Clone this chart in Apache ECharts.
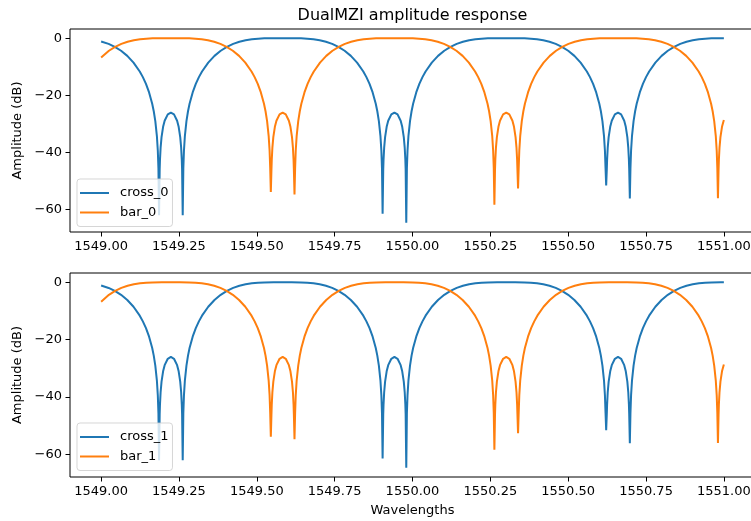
<!DOCTYPE html>
<html><head><meta charset="utf-8">
<script src="https://cdn.jsdelivr.net/npm/echarts@6/dist/echarts.min.js"></script>
<style>html,body{margin:0;padding:0;background:#fff}#c{width:751px;height:521px}</style>
</head><body><div id="c"></div>
<script>
// Both panels show the same curves: [wavelength, dB]
const crossPoints = [
[1549.000,-1.12],[1549.024,-1.97],[1549.044,-3.01],[1549.064,-4.38],[1549.084,-6.18],[1549.104,-8.53],
[1549.124,-11.64],[1549.134,-13.62],[1549.144,-15.99],[1549.154,-18.96],[1549.164,-22.92],[1549.169,-25.56],
[1549.174,-29.02],[1549.179,-34.15],[1549.182,-39.30],[1549.184,-45.54],[1549.186,-62.0],[1549.188,-45.94],
[1549.189,-42.52],[1549.191,-38.32],[1549.194,-34.59],[1549.199,-31.01],[1549.204,-28.88],[1549.214,-26.65],
[1549.224,-26.02],[1549.234,-26.65],[1549.244,-28.88],[1549.249,-31.01],[1549.254,-34.59],[1549.257,-38.32],
[1549.259,-42.52],[1549.260,-45.94],[1549.262,-62.0],[1549.264,-45.54],[1549.266,-39.30],[1549.269,-34.15],
[1549.274,-29.02],[1549.279,-25.56],[1549.284,-22.92],[1549.294,-18.96],[1549.304,-15.99],[1549.314,-13.62],
[1549.324,-11.64],[1549.344,-8.53],[1549.364,-6.18],[1549.384,-4.38],[1549.404,-3.01],[1549.424,-1.97],
[1549.444,-1.22],[1549.464,-0.69],[1549.484,-0.35],[1549.504,-0.15],[1549.524,-0.05],[1549.554,0],
[1549.612,0],[1549.642,-0.05],[1549.662,-0.15],[1549.682,-0.35],[1549.702,-0.69],[1549.722,-1.22],
[1549.742,-1.97],[1549.762,-3.01],[1549.782,-4.38],[1549.802,-6.18],[1549.822,-8.53],[1549.842,-11.64],
[1549.852,-13.62],[1549.862,-15.99],[1549.872,-18.96],[1549.882,-22.92],[1549.887,-25.56],[1549.892,-29.02],
[1549.897,-34.15],[1549.900,-39.30],[1549.902,-45.54],[1549.904,-61.4],[1549.906,-45.94],[1549.907,-42.52],
[1549.909,-38.32],[1549.912,-34.59],[1549.917,-31.01],[1549.922,-28.88],[1549.932,-26.65],[1549.942,-26.02],
[1549.952,-26.65],[1549.962,-28.88],[1549.967,-31.01],[1549.972,-34.59],[1549.975,-38.32],[1549.977,-42.52],
[1549.978,-45.94],[1549.980,-64.6],[1549.982,-45.54],[1549.984,-39.30],[1549.987,-34.15],[1549.992,-29.02],
[1549.997,-25.56],[1550.002,-22.92],[1550.012,-18.96],[1550.022,-15.99],[1550.032,-13.62],[1550.042,-11.64],
[1550.062,-8.53],[1550.082,-6.18],[1550.102,-4.38],[1550.122,-3.01],[1550.142,-1.97],[1550.162,-1.22],
[1550.182,-0.69],[1550.202,-0.35],[1550.222,-0.15],[1550.242,-0.05],[1550.272,0],[1550.330,0],
[1550.360,-0.05],[1550.380,-0.15],[1550.400,-0.35],[1550.420,-0.69],[1550.440,-1.22],[1550.460,-1.97],
[1550.480,-3.01],[1550.500,-4.38],[1550.520,-6.18],[1550.540,-8.53],[1550.560,-11.64],[1550.570,-13.62],
[1550.580,-15.99],[1550.590,-18.96],[1550.600,-22.92],[1550.605,-25.56],[1550.610,-29.02],[1550.615,-34.15],
[1550.618,-39.30],[1550.620,-45.54],[1550.622,-51.5],[1550.624,-45.94],[1550.625,-42.52],[1550.627,-38.32],
[1550.630,-34.59],[1550.635,-31.01],[1550.640,-28.88],[1550.650,-26.65],[1550.660,-26.02],[1550.670,-26.65],
[1550.680,-28.88],[1550.685,-31.01],[1550.690,-34.59],[1550.693,-38.32],[1550.695,-42.52],[1550.696,-45.94],
[1550.698,-56.1],[1550.700,-45.54],[1550.702,-39.30],[1550.705,-34.15],[1550.710,-29.02],[1550.715,-25.56],
[1550.720,-22.92],[1550.730,-18.96],[1550.740,-15.99],[1550.750,-13.62],[1550.760,-11.64],[1550.780,-8.53],
[1550.800,-6.18],[1550.820,-4.38],[1550.840,-3.01],[1550.860,-1.97],[1550.880,-1.22],[1550.900,-0.69],
[1550.920,-0.35],[1550.940,-0.15],[1550.960,-0.05],[1550.990,0],[1551.000,0]
];
const barPoints = [
[1549.000,-6.77],[1549.005,-6.18],[1549.025,-4.38],[1549.045,-3.01],[1549.065,-1.97],[1549.085,-1.22],
[1549.105,-0.69],[1549.125,-0.35],[1549.145,-0.15],[1549.165,-0.05],[1549.195,0],[1549.253,0],
[1549.283,-0.05],[1549.303,-0.15],[1549.323,-0.35],[1549.343,-0.69],[1549.363,-1.22],[1549.383,-1.97],
[1549.403,-3.01],[1549.423,-4.38],[1549.443,-6.18],[1549.463,-8.53],[1549.483,-11.64],[1549.493,-13.62],
[1549.503,-15.99],[1549.513,-18.96],[1549.523,-22.92],[1549.528,-25.56],[1549.533,-29.02],[1549.538,-34.15],
[1549.541,-39.30],[1549.543,-45.54],[1549.545,-53.8],[1549.547,-45.94],[1549.548,-42.52],[1549.550,-38.32],
[1549.553,-34.59],[1549.558,-31.01],[1549.563,-28.88],[1549.573,-26.65],[1549.583,-26.02],[1549.593,-26.65],
[1549.603,-28.88],[1549.608,-31.01],[1549.613,-34.59],[1549.616,-38.32],[1549.618,-42.52],[1549.619,-45.94],
[1549.621,-54.7],[1549.623,-45.54],[1549.625,-39.30],[1549.628,-34.15],[1549.633,-29.02],[1549.638,-25.56],
[1549.643,-22.92],[1549.653,-18.96],[1549.663,-15.99],[1549.673,-13.62],[1549.683,-11.64],[1549.703,-8.53],
[1549.723,-6.18],[1549.743,-4.38],[1549.763,-3.01],[1549.783,-1.97],[1549.803,-1.22],[1549.823,-0.69],
[1549.843,-0.35],[1549.863,-0.15],[1549.883,-0.05],[1549.913,0],[1549.971,0],[1550.001,-0.05],
[1550.021,-0.15],[1550.041,-0.35],[1550.061,-0.69],[1550.081,-1.22],[1550.101,-1.97],[1550.121,-3.01],
[1550.141,-4.38],[1550.161,-6.18],[1550.181,-8.53],[1550.201,-11.64],[1550.211,-13.62],[1550.221,-15.99],
[1550.231,-18.96],[1550.241,-22.92],[1550.246,-25.56],[1550.251,-29.02],[1550.256,-34.15],[1550.259,-39.30],
[1550.261,-45.54],[1550.263,-58.3],[1550.265,-45.94],[1550.266,-42.52],[1550.268,-38.32],[1550.271,-34.59],
[1550.276,-31.01],[1550.281,-28.88],[1550.291,-26.65],[1550.301,-26.02],[1550.311,-26.65],[1550.321,-28.88],
[1550.326,-31.01],[1550.331,-34.59],[1550.334,-38.32],[1550.336,-42.52],[1550.337,-45.94],[1550.339,-52.6],
[1550.341,-45.54],[1550.343,-39.30],[1550.346,-34.15],[1550.351,-29.02],[1550.356,-25.56],[1550.361,-22.92],
[1550.371,-18.96],[1550.381,-15.99],[1550.391,-13.62],[1550.401,-11.64],[1550.421,-8.53],[1550.441,-6.18],
[1550.461,-4.38],[1550.481,-3.01],[1550.501,-1.97],[1550.521,-1.22],[1550.541,-0.69],[1550.561,-0.35],
[1550.581,-0.15],[1550.601,-0.05],[1550.631,0],[1550.689,0],[1550.719,-0.05],[1550.739,-0.15],
[1550.759,-0.35],[1550.779,-0.69],[1550.799,-1.22],[1550.819,-1.97],[1550.839,-3.01],[1550.859,-4.38],
[1550.879,-6.18],[1550.899,-8.53],[1550.919,-11.64],[1550.929,-13.62],[1550.939,-15.99],[1550.949,-18.96],
[1550.959,-22.92],[1550.964,-25.56],[1550.969,-29.02],[1550.974,-34.15],[1550.977,-39.30],[1550.979,-45.54],
[1550.981,-56.0],[1550.983,-45.94],[1550.984,-42.52],[1550.986,-38.32],[1550.989,-34.59],[1550.994,-31.01],
[1551.000,-28.66]
];
const xTicks = [1549.00,1549.25,1549.50,1549.75,1550.00,1550.25,1550.50,1550.75,1551.00];
const yTicks = [-60,-40,-20,0];
const panelNames = [['cross_0','bar_0'],['cross_1','bar_1']];
const titleText = 'DualMZI amplitude response';
const xLabel = 'Wavelengths';
const yLabel = 'Amplitude (dB)';

const FONT = 'DejaVu Sans';
const BLUE = '#1f77b4', ORANGE = '#ff7f0e';
const chart = echarts.init(document.getElementById('c'), null, {renderer:'canvas'});

const grids = [
  {left:70, right:-4, top:29, height:203, outerBoundsMode:'none', containLabel:false, show:true, borderColor:'#000', borderWidth:1, backgroundColor:'transparent'},
  {left:70, right:-4, top:273, height:204, outerBoundsMode:'none', containLabel:false, show:true, borderColor:'#000', borderWidth:1, backgroundColor:'transparent'}
];
function xAxisFor(i){
  return {
    type:'value', gridIndex:i, min:1548.9, max:1551.1,
    axisLine:{show:false, onZero:false}, splitLine:{show:false},
    axisTick:{show:true, length:4.5, lineStyle:{color:'#000', width:1}, customValues:xTicks},
    axisLabel:{show:true, customValues:xTicks, margin:8, color:'#000', fontFamily:FONT, fontSize:13,
      formatter:v=>Number(v).toFixed(2)},
    name: i===1 ? xLabel : '', nameLocation:'middle', nameGap:27,
    nameTextStyle:{color:'#000', fontFamily:FONT, fontSize:13}
  };
}
function yAxisFor(i){
  return {
    type:'value', gridIndex:i, min:-67.83, max:3.23,
    axisLine:{show:false, onZero:false}, splitLine:{show:false},
    axisTick:{show:true, length:4.5, lineStyle:{color:'#000', width:1}, customValues:yTicks},
    axisLabel:{show:true, customValues:yTicks, margin:8, color:'#000', fontFamily:FONT, fontSize:13,
      formatter:v=>String(v).replace('-','\u2212')},
    name:yLabel, nameLocation:'middle', nameGap:45,
    nameTextStyle:{color:'#000', fontFamily:FONT, fontSize:13}
  };
}
function lineSeries(name, pts, color, i){
  return {type:'line', name, xAxisIndex:i, yAxisIndex:i, data:pts, showSymbol:false, symbol:'none',
    lineStyle:{color, width:2}, itemStyle:{color}, sampling:null, smooth:false, z:2, clip:true};
}
function legendFor(i, top){
  return {
    orient:'vertical', left:77, top, data:panelNames[i], icon:'rect', itemWidth:29, itemHeight:2,
    itemGap:3.5, padding:[6,4,6,3], backgroundColor:'rgba(255,255,255,0.8)',
    borderColor:'rgba(204,204,204,0.8)', borderWidth:1, borderRadius:3, selectedMode:false,
    textStyle:{color:'#000', fontFamily:FONT, fontSize:13, lineHeight:16, padding:[0,0,0,6]}
  };
}
chart.setOption({
  animation:false,
  backgroundColor:'#fff',
  grid:grids,
  xAxis:[xAxisFor(0), xAxisFor(1)],
  yAxis:[yAxisFor(0), yAxisFor(1)],
  legend:[legendFor(0,179), legendFor(1,423)],
  series:[
    lineSeries(panelNames[0][0], crossPoints, BLUE, 0),
    lineSeries(panelNames[0][1], barPoints, ORANGE, 0),
    lineSeries(panelNames[1][0], crossPoints, BLUE, 1),
    lineSeries(panelNames[1][1], barPoints, ORANGE, 1)
  ],
  graphic:[{type:'text', x:412.5, y:16, style:{text:titleText, fill:'#000', font:'16px "DejaVu Sans"', textAlign:'center', textVerticalAlign:'middle'}}]
});
</script></body></html>
